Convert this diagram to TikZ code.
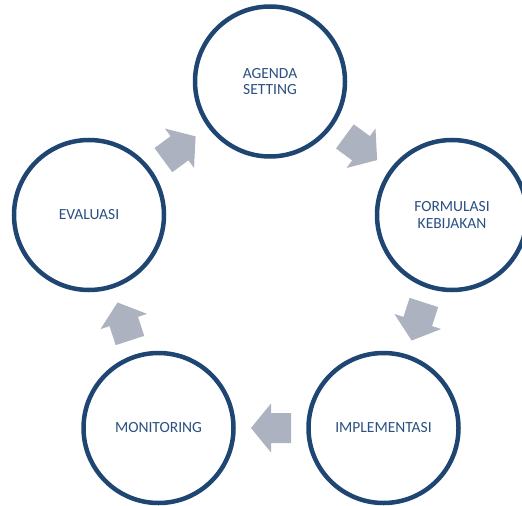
\documentclass[tikz,border=0pt]{standalone}
\usepackage{fontspec}
\setmainfont{Carlito}
\definecolor{ringblue}{RGB}{31,69,115}
\definecolor{textblue}{RGB}{43,80,130}
\definecolor{arrowgray}{RGB}{173,178,192}
\tikzset{
  stage/.style={circle, draw=ringblue, line width=4.5bp, fill=white,
    minimum size=150bp, inner sep=0pt, align=center, text=textblue,
    font=\fontsize{15.5bp}{16.7bp}\selectfont},
  blockarrow/.pic={\fill[arrowgray] (-20,-15) -- (0,-15) -- (0,-24.5) -- (20,0)
    -- (0,24.5) -- (0,15) -- (-20,15) -- cycle;}
}
\begin{document}
\begin{tikzpicture}[x=1bp,y=-1bp]
\useasboundingbox (0,0) rectangle (522,506);
\node[stage] (A) at (270,81.5) {AGENDA\\SETTING};
\node[stage] (F) at (452,215) {FORMULASI\\KEBIJAKAN};
\node[stage] (I) at (383.5,428) {IMPLEMENTASI};
\node[stage] (M) at (158.5,428) {MONITORING};
\node[stage] (E) at (89,215) {EVALUASI};
\path (A.center) -- (F.center) pic[midway, sloped, allow upside down] {blockarrow};
\path (F.center) -- (I.center) pic[midway, sloped, allow upside down] {blockarrow};
\path (I.center) -- (M.center) pic[midway, sloped, allow upside down] {blockarrow};
\path (M.center) -- (E.center) pic[midway, sloped, allow upside down] {blockarrow};
\path (E.center) -- (A.center) pic[midway, sloped, allow upside down] {blockarrow};
\end{tikzpicture}
\end{document}
